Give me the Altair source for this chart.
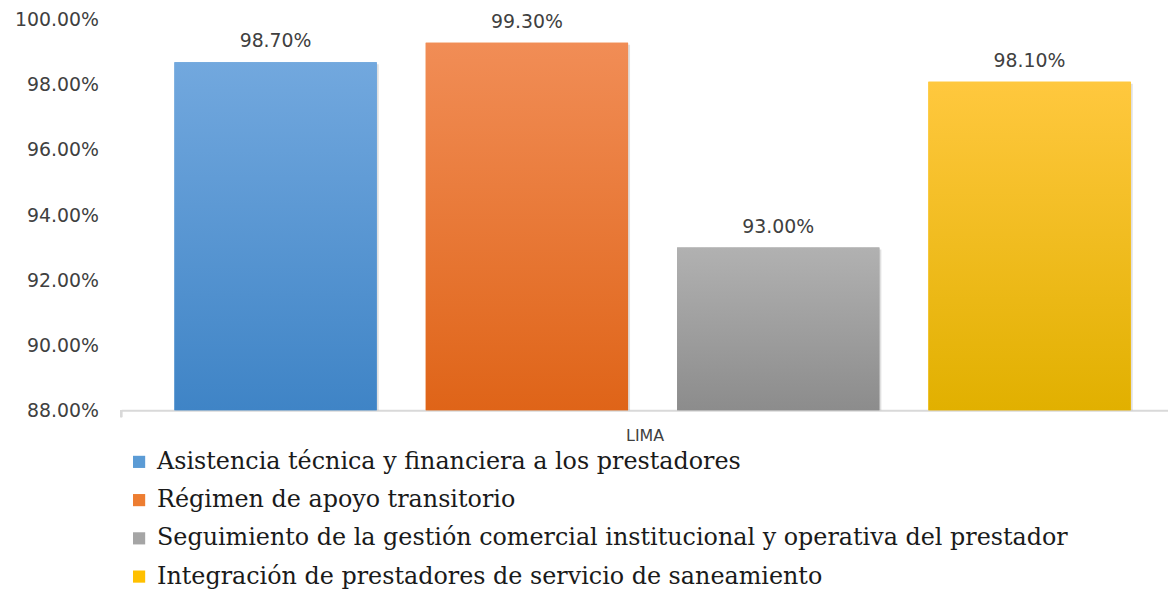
import altair as alt
import pandas as pd

categories = [
    "Asistencia técnica y financiera a los prestadores",
    "Régimen de apoyo transitorio",
    "Seguimiento de la gestión comercial institucional y operativa del prestador",
    "Integración de prestadores de servicio de saneamiento",
]
values = [0.987, 0.993, 0.930, 0.981]
group_label = "LIMA"
y_ticks = [0.88, 0.90, 0.92, 0.94, 0.96, 0.98, 1.00]

solid_colors = ["#5b9bd5", "#ed7d31", "#a5a5a5", "#ffc000"]
grad_top = ["#72a8de", "#f18d56", "#b1b1b1", "#ffc83e"]
grad_bottom = ["#3f84c6", "#df6418", "#8c8c8c", "#e1b000"]

df = pd.DataFrame({"cat": categories, "val": values})

W, H = 1054, 393
ymin, ymax = y_ticks[0], y_ticks[-1]

x_enc = alt.X(
    "cat:N",
    sort=categories,
    scale=alt.Scale(paddingInner=0.195, paddingOuter=0.18, align=0.588),
    axis=alt.Axis(
        labels=False, ticks=False, domain=True, domainColor="#d9d9d9",
        domainWidth=2, title=group_label, titleFont="DejaVu Sans",
        titleFontSize=16, titleFontWeight="normal", titleColor="#404040",
        titlePadding=17,
    ),
)
y_enc = alt.Y(
    "val:Q",
    scale=alt.Scale(domain=[ymin, ymax], zero=False, nice=False),
    axis=alt.Axis(
        values=y_ticks, format=".2%", domain=False, ticks=False, grid=False,
        labelFont="DejaVu Sans", labelFontSize=19, labelColor="#404040",
        labelPadding=23, title=None,
    ),
)

base = alt.Chart(df)

legend_bars = base.mark_bar().encode(
    x=x_enc,
    y=y_enc,
    y2=alt.datum(ymin),
    color=alt.Color(
        "cat:N",
        sort=categories,
        scale=alt.Scale(domain=categories, range=solid_colors),
        legend=alt.Legend(
            title=None, orient="none", legendX=6, legendY=433,
            direction="vertical", symbolType="square", symbolSize=150,
            symbolStrokeWidth=0, labelFont="DejaVu Serif",
            labelFontSize=24, labelColor="#1a1a1a", labelLimit=0,
            labelOffset=6, rowPadding=14.5,
        ),
    ),
)

shadow = base.mark_bar(color="#000000", opacity=0.12, xOffset=2, yOffset=2).encode(
    x=x_enc, y=y_enc, y2=alt.datum(ymin)
)

layers = [shadow, legend_bars]
for c, t, b in zip(categories, grad_top, grad_bottom):
    layers.append(
        base.transform_filter(alt.datum.cat == c).mark_bar(
            color=alt.Gradient(
                gradient="linear",
                stops=[alt.GradientStop(color=t, offset=0),
                       alt.GradientStop(color=b, offset=1)],
                x1=0, x2=0, y1=0, y2=1,
            )
        ).encode(x=x_enc, y=y_enc, y2=alt.datum(ymin))
    )

labels = base.mark_text(
    font="DejaVu Sans", fontSize=19, color="#404040", baseline="bottom", dy=-11
).encode(x=x_enc, y=y_enc, text=alt.Text("val:Q", format=".2%"))
layers.append(labels)

tick = alt.Chart(df).mark_rule(color="#d9d9d9", strokeWidth=2).encode(
    x=alt.value(0), y=alt.value(H), y2=alt.value(H + 7)
)
layers.append(tick)

chart = alt.layer(*layers).properties(
    width=W, height=H,
    autosize=alt.AutoSizeParams(type="none"),
    padding={"left": 114, "top": 10, "right": 0, "bottom": 179},
).configure_view(stroke=None)

chart.save("out.html", embed_options={"renderer": "svg", "actions": False})
